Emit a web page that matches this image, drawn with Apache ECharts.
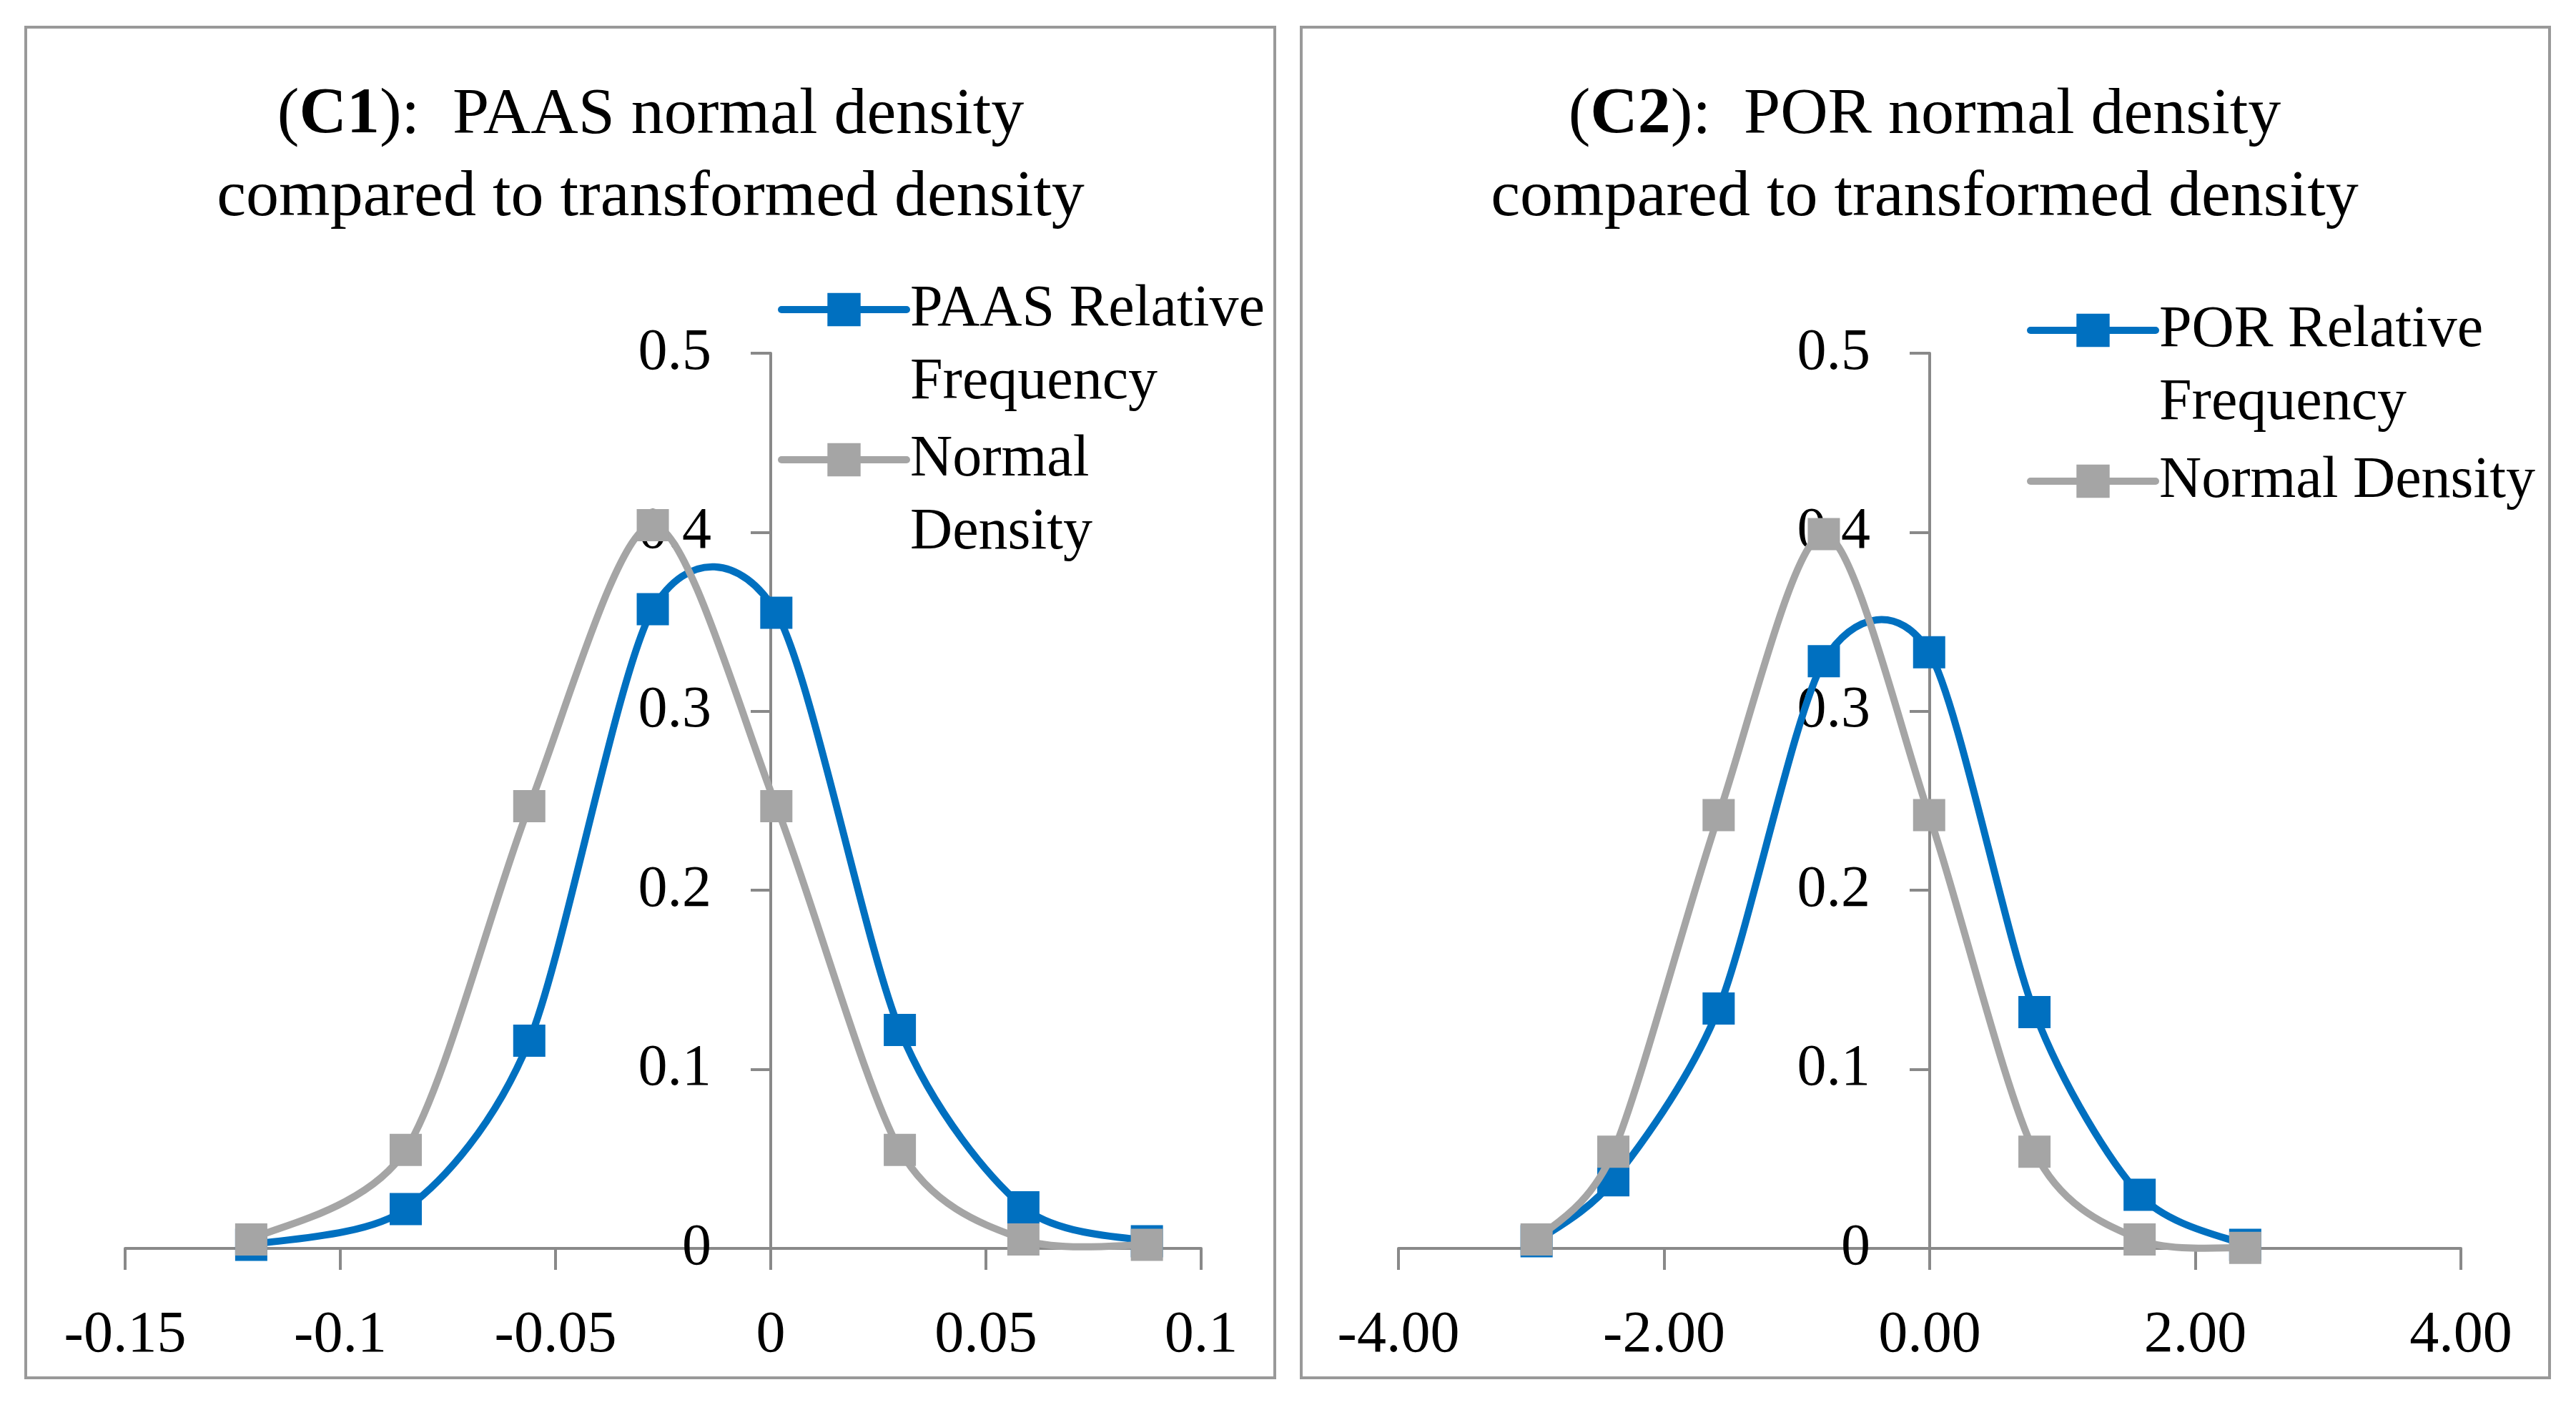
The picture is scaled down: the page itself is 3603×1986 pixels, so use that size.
<!DOCTYPE html>
<html>
<head>
<meta charset="utf-8">
<script src="https://cdn.jsdelivr.net/npm/echarts@6/dist/echarts.min.js"></script>
<style>
html,body{margin:0;padding:0;background:#fff;}
#chart{width:3603px;height:1986px;}
</style>
</head>
<body>
<div id="chart"></div>
<script>
// ---- Data ----
const c1X      = [-0.1207, -0.0848, -0.0561, -0.0274, 0.0013, 0.0300, 0.0587, 0.0874];
const c1Freq   = [0.002, 0.022, 0.116, 0.357, 0.355, 0.122, 0.023, 0.004];
const c1Normal = [0.005, 0.055, 0.247, 0.404, 0.247, 0.055, 0.005, 0.002];

const c2X      = [-2.96, -2.382, -1.589, -0.797, -0.004, 0.789, 1.581, 2.376];
const c2Freq   = [0.004, 0.038, 0.134, 0.328, 0.333, 0.132, 0.030, 0.002];
const c2Normal = [0.005, 0.054, 0.242, 0.399, 0.242, 0.054, 0.005, 0.0003];

const c1Name = 'PAAS Relative Frequency';
const c2Name = 'POR Relative Frequency';
const normName = 'Normal Density';

const c1Title = ['(', 'C1', '):  PAAS normal density', 'compared to transformed density'];
const c2Title = ['(', 'C2', '):  POR normal density', 'compared to transformed density'];

// ---- Styling ----
const FONT = 'Liberation Serif';
const BLUE = '#0070C0';
const GRAY = '#A5A5A5';
const AXIS = '#898989';
const TENSION = 1 / 7.2;

function pairs(xs, ys) { return xs.map((x, i) => [x, ys[i]]); }

function xAxisDef(gridIndex, min, max, interval, fmt) {
  return {
    type: 'value', gridIndex, min, max, interval,
    axisLine: { show: true, onZero: true, lineStyle: { color: AXIS, width: 4 } },
    axisTick: { show: true, length: 30, lineStyle: { color: AXIS, width: 4 } },
    splitLine: { show: false },
    axisLabel: { fontFamily: FONT, fontSize: 82, color: '#000', margin: 81, formatter: fmt }
  };
}
function yAxisDef(gridIndex, offset) {
  return {
    type: 'value', gridIndex, min: 0, max: 0.5, interval: 0.1, offset,
    axisLine: { show: true, onZero: false, lineStyle: { color: AXIS, width: 4 } },
    axisTick: { show: true, length: 28, lineStyle: { color: AXIS, width: 4 } },
    splitLine: { show: false },
    axisLabel: { fontFamily: FONT, fontSize: 82, color: '#000', margin: 83 }
  };
}
// markers (line series, its own polyline hidden)
function markerSeries(name, xi, xs, ys, color, z) {
  return {
    type: 'line', name, xAxisIndex: xi, yAxisIndex: xi, data: pairs(xs, ys), z,
    symbol: 'rect', symbolSize: 45, showSymbol: true,
    lineStyle: { color, width: 10, opacity: 0 },
    itemStyle: { color },
    emphasis: { disabled: true }, silent: true
  };
}
// smoothed curve through the same points (Excel-like cardinal spline), drawn via the axes' coord
function curveSeries(name, xi, xs, ys, color, z) {
  return {
    type: 'custom', name: name + ' curve', xAxisIndex: xi, yAxisIndex: xi, z,
    data: pairs(xs, ys), encode: { x: 0, y: 1 }, silent: true,
    renderItem: function (params, api) {
      if (params.dataIndex !== 0) return null;
      const pts = xs.map((x, i) => api.coord([x, ys[i]]));
      const n = pts.length;
      let d = 'M ' + pts[0][0].toFixed(2) + ' ' + pts[0][1].toFixed(2);
      for (let i = 0; i < n - 1; i++) {
        const p0 = pts[Math.max(i - 1, 0)], p1 = pts[i], p2 = pts[i + 1], p3 = pts[Math.min(i + 2, n - 1)];
        const c1x = p1[0] + (p2[0] - p0[0]) * TENSION, c1y = p1[1] + (p2[1] - p0[1]) * TENSION;
        const c2x = p2[0] - (p3[0] - p1[0]) * TENSION, c2y = p2[1] - (p3[1] - p1[1]) * TENSION;
        d += ' C ' + [c1x, c1y, c2x, c2y, p2[0], p2[1]].map(v => v.toFixed(2)).join(' ');
      }
      return {
        type: 'path', shape: { pathData: d },
        style: { fill: 'none', stroke: color, lineWidth: 10, lineCap: 'round', lineJoin: 'round' }
      };
    }
  };
}
function legendDef(name, left, top, twoLine, color, fmt) {
  const ts = { fontFamily: FONT, fontSize: 82, color: '#000', lineHeight: 102 };
  if (twoLine) {
    ts.padding = [102, 0, 0, 0];
    ts.rich = { a: { fontFamily: FONT, fontSize: 82, color: '#000', lineHeight: 102 } };
  }
  return {
    data: [name], left, top, orient: 'vertical', padding: 0, itemGap: 0,
    itemWidth: 175, itemHeight: 58, textGap: 11,
    lineStyle: { width: 10, color, opacity: 1, cap: 'round' },
    selectedMode: false,
    formatter: fmt,
    textStyle: ts
  };
}
function titleGraphic(parts, cx) {
  const base = { fontFamily: FONT, fontSize: 92, fill: '#000', lineHeight: 115 };
  return {
    type: 'text', x: cx, y: 104, z: 10,
    style: {
      text: '{n|' + parts[0] + '}{b|' + parts[1] + '}{n|' + parts[2] + '}\n{n|' + parts[3] + '}',
      align: 'center', verticalAlign: 'top',
      fontFamily: FONT, fontSize: 92, fill: '#000', lineHeight: 115,
      rich: {
        n: Object.assign({}, base),
        b: Object.assign({ fontWeight: 'bold' }, base)
      }
    }
  };
}

const chart = echarts.init(document.getElementById('chart'), null, { width: 3603, height: 1986, renderer: 'canvas' });

const option = {
  backgroundColor: '#fff',
  animation: false,
  grid: [
    { left: 175, top: 494, width: 1505, height: 1252 },
    { left: 1956, top: 494, width: 1486, height: 1252 }
  ],
  xAxis: [
    xAxisDef(0, -0.15, 0.1, 0.05),
    xAxisDef(1, -4, 4, 2, v => v.toFixed(2))
  ],
  yAxis: [yAxisDef(0, -903), yAxisDef(1, -743)],
  legend: [
    legendDef(c1Name, 1088, 280, true, BLUE, n => n.replace(' Frequency', '\nFrequency')),
    legendDef(normName, 1088, 490, true, GRAY, n => n.replace(' Density', '\nDensity')),
    legendDef(c2Name, 2835, 309, true, BLUE, n => n.replace(' Frequency', '\nFrequency')),
    legendDef(normName, 2835, 622, false, GRAY, n => n)
  ],
  series: [
    curveSeries(c1Name, 0, c1X, c1Freq, BLUE, 2),
    markerSeries(c1Name, 0, c1X, c1Freq, BLUE, 3),
    curveSeries(normName, 0, c1X, c1Normal, GRAY, 4),
    markerSeries(normName, 0, c1X, c1Normal, GRAY, 5),
    curveSeries(c2Name, 1, c2X, c2Freq, BLUE, 2),
    markerSeries(c2Name, 1, c2X, c2Freq, BLUE, 3),
    curveSeries(normName, 1, c2X, c2Normal, GRAY, 4),
    markerSeries(normName, 1, c2X, c2Normal, GRAY, 5)
  ],
  graphic: [
    { type: 'rect', shape: { x: 36, y: 38, width: 1747, height: 1889 },
      style: { fill: 'none', stroke: '#999999', lineWidth: 4 }, z: -1 },
    { type: 'rect', shape: { x: 1820, y: 38, width: 1746, height: 1889 },
      style: { fill: 'none', stroke: '#999999', lineWidth: 4 }, z: -1 },
    titleGraphic(c1Title, 910),
    titleGraphic(c2Title, 2692)
  ]
};
chart.setOption(option);
</script>
</body>
</html>
